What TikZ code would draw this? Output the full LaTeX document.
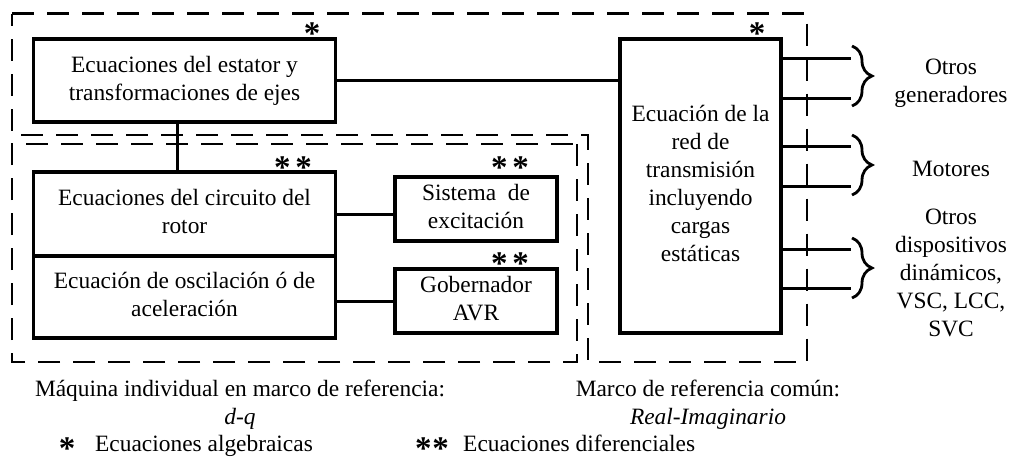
\documentclass[tikz,border=0pt]{standalone}
\usepackage{fontspec}
\setmainfont{Liberation Serif}
\usetikzlibrary{decorations.pathreplacing}
\begin{document}
\begin{tikzpicture}[x=1pt,y=-1pt,
  every node/.style={font=\fontsize{23.4}{28}\selectfont, inner sep=0pt},
  box/.style={draw, line width=3.7pt, align=center},
  conn/.style={line width=3pt},
  region/.style={line width=2.8pt, dash pattern=on 22pt off 13pt},
  star/.style={font=\fontsize{33}{33}\selectfont\bfseries, anchor=base, text depth=0pt},
  lbl/.style={align=center},
  curly/.style={line width=2.8pt, decorate, decoration={brace, amplitude=20pt, aspect=0.5}}
]
\useasboundingbox (0,0) rectangle (1009,459);

% dashed regions
\draw[region] (12,13.5) -- (807,13.5) -- (807,362) -- (588,362) -- (588,135) -- (12,135) -- cycle;
\draw[region] (577,144) -- (577,362) -- (12,362) -- (12,144) -- cycle;

% boxes
\node[box, minimum width=302pt, minimum height=83pt] (stator) at (184.5,80.5)
  {\strut Ecuaciones del estator y\\transformaciones de ejes\strut};
\node[box, minimum width=302pt, minimum height=84pt] (rotor) at (184.5,214)
  {\strut Ecuaciones del circuito del\\rotor\strut};
\node[box, minimum width=302pt, minimum height=82pt] (osc) at (184.5,297)
  {\strut Ecuación de oscilación ó de\\aceleración\strut};
\node[box, minimum width=162pt, minimum height=64pt] (sis) at (476,209)
  {\strut Sistema~ de\\excitación\strut};
\node[box, minimum width=162pt, minimum height=64pt] (gob) at (476,301)
  {\strut Gobernador\\AVR\strut};
\node[box, minimum width=161pt, minimum height=294pt] (net) at (700.5,186)
  {\strut Ecuación de la\\red de\\transmisión\\incluyendo\\cargas\\estáticas\strut};

% asterisks
\node[star] (a1) at (312,36) {\raisebox{-8pt}{*}};
\node[star] (a2) at (757,36) {\raisebox{-8pt}{*}};
\node[star] (a3) at (293,170) {\raisebox{-8pt}{*\hspace{5pt}*}};
\node[star] (a4) at (510,170) {\raisebox{-8pt}{*\hspace{5pt}*}};
\node[star] (a5) at (510,266) {\raisebox{-8pt}{*\hspace{5pt}*}};

% connectors
\draw[conn] (stator.east) -- (stator.east -| net.west);
\draw[conn] ([xshift=-7.5pt]stator.south) -- ([xshift=-7.5pt]rotor.north);
\draw[conn] (rotor.east) -- (rotor.east -| sis.west);
\draw[conn] (gob.west -| osc.east) -- (gob.west);

% outgoing lines
\coordinate (o1) at (851,58);
\coordinate (o2) at (851,98);
\coordinate (o3) at (851,146);
\coordinate (o4) at (851,186);
\coordinate (o5) at (851,249);
\coordinate (o6) at (851,288);
\foreach \i in {1,...,6} \draw[conn] (net.east |- o\i) -- (o\i);

% braces
\coordinate (b1a) at (852,46);  \coordinate (b1b) at (852,106);
\coordinate (b2a) at (852,135); \coordinate (b2b) at (852,195);
\coordinate (b3a) at (852,238); \coordinate (b3b) at (852,298);
\draw[curly] (b1a) -- (b1b);
\draw[curly] (b2a) -- (b2b);
\draw[curly] (b3a) -- (b3b);

% right labels
\node[lbl] (l1) at (951,83) {\strut Otros\\generadores\strut};
\node[lbl] (l2) at (951,171) {\strut Motores\strut};
\node[lbl] (l3) at (951,275) {\strut Otros\\dispositivos\\dinámicos,\\VSC, LCC,\\SVC\strut};

% bottom labels
\node[anchor=base] (m1) at (240,396) {Máquina individual en marco de referencia:};
\node[anchor=base] (m2) at (240,424) {\itshape d-q};
\node[anchor=base] (c1) at (708,396) {Marco de referencia común:};
\node[anchor=base] (c2) at (708,424) {\itshape Real-Imaginario};

% legend
\node[star] (k1) at (67,451) {\raisebox{-8pt}{*}};
\node[anchor=base west] (k2) at (95,451) {Ecuaciones algebraicas};
\node[star] (k3) at (432,451) {\raisebox{-8pt}{*\hspace{1pt}*}};
\node[anchor=base west] (k4) at (463,451) {Ecuaciones diferenciales};
\end{tikzpicture}
\end{document}
